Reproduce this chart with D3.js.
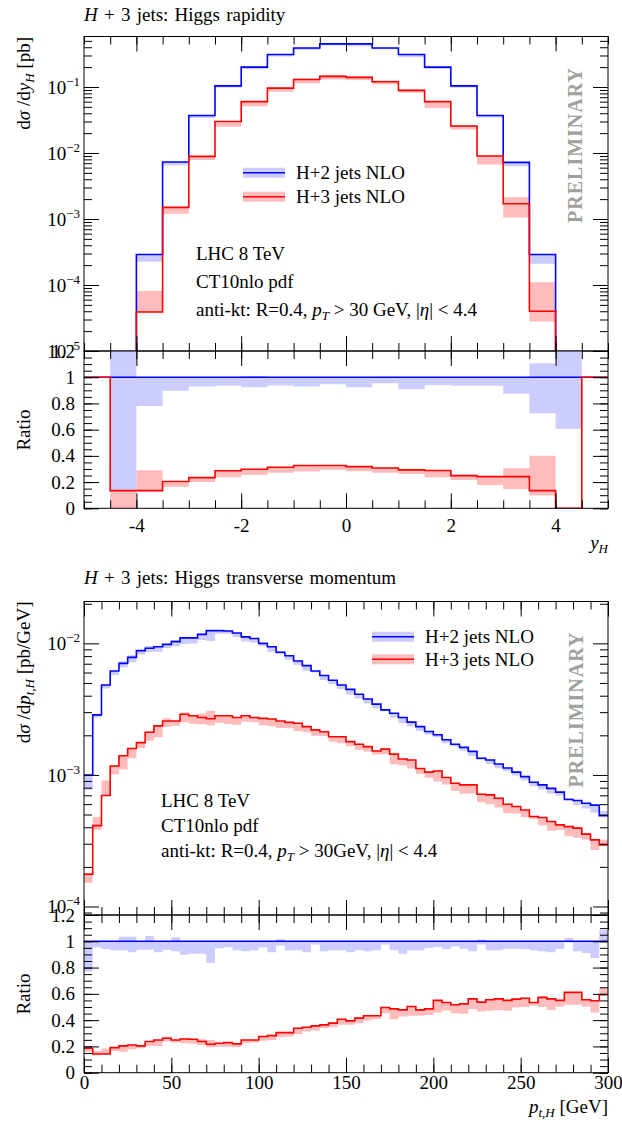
<!DOCTYPE html>
<html>
<head>
<meta charset="utf-8">
<script src="https://cdn.jsdelivr.net/npm/d3@7"></script>
<style>
body { margin: 0; background: #fff; }
svg text { font-family: "Liberation Serif", "DejaVu Serif", "Times New Roman", serif; font-size: 19px; fill: #000; }
</style>
</head>
<body>
<svg id="chart" width="622" height="1122"></svg>
<script>
// ---------- Higgs rapidity (bins of 0.5 from -5 to 5) ----------
var rapEdges = [-5, -4.5, -4, -3.5, -3, -2.5, -2, -1.5, -1, -0.5, 0, 0.5, 1, 1.5, 2, 2.5, 3, 3.5, 4, 4.5, 5];
var rapH2   = [0, 4e-6, 2.9e-4, 7.3e-3, 0.037, 0.104, 0.200, 0.31, 0.39, 0.45, 0.45, 0.39, 0.31, 0.200, 0.104, 0.037, 7.2e-3, 2.9e-4, 3e-6, 0];
var rapH2Lo = [0, 5e-7, 2.25e-4, 6.5e-3, 0.034, 0.097, 0.185, 0.29, 0.362, 0.426, 0.416, 0.372, 0.283, 0.188, 0.097, 0.0345, 6.3e-3, 2.1e-4, 1.8e-6, 0];
var rapH2Hi = [0, 6e-6, 2.9e-4, 7.3e-3, 0.037, 0.104, 0.202, 0.31, 0.39, 0.45, 0.45, 0.39, 0.31, 0.200, 0.104, 0.037, 7.2e-3, 2.9e-4, 4e-6, 0];
var rapH3   = [0, 5e-7, 3.9e-5, 1.5e-3, 8.9e-3, 0.030, 0.060, 0.096, 0.130, 0.145, 0.140, 0.120, 0.089, 0.060, 0.0257, 9.0e-3, 1.7e-3, 4.0e-5, 0, 0];
var rapH3Lo = [0, 0, 3.9e-5, 1.2e-3, 7.8e-3, 0.025, 0.051, 0.085, 0.114, 0.130, 0.128, 0.110, 0.082, 0.048, 0.0226, 6.7e-3, 1.05e-3, 2.8e-5, 0, 0];
var rapH3Hi = [0, 1e-6, 8.1e-5, 1.5e-3, 8.9e-3, 0.030, 0.060, 0.098, 0.135, 0.150, 0.145, 0.125, 0.092, 0.060, 0.0257, 9.0e-3, 2.15e-3, 1.1e-4, 0, 0];
// ratio to H+2 jets
var rapRatioH3   = [1, 0.135, 0.135, 0.204, 0.234, 0.287, 0.298, 0.313, 0.326, 0.326, 0.318, 0.308, 0.293, 0.288, 0.249, 0.242, 0.242, 0.135, 0, 1];
var rapRatioH3Lo = [1, 0, 0.135, 0.165, 0.200, 0.237, 0.254, 0.272, 0.280, 0.293, 0.282, 0.272, 0.262, 0.237, 0.216, 0.178, 0.148, 0.097, 0, 1];
var rapRatioH3Hi = [1, 0.135, 0.290, 0.204, 0.234, 0.287, 0.298, 0.313, 0.326, 0.326, 0.318, 0.308, 0.293, 0.288, 0.249, 0.242, 0.305, 0.400, 0, 1];
var rapRatioH2Lo = [1, 0.13, 0.78, 0.896, 0.929, 0.934, 0.924, 0.936, 0.929, 0.947, 0.924, 0.954, 0.911, 0.941, 0.934, 0.934, 0.873, 0.725, 0.606, 1];
var rapRatioH2Hi = [1, 1.5, 1, 1, 1, 1, 1.01, 1, 1, 1, 1, 1, 1, 1, 1, 1, 1, 1.107, 1.5, 1];

// ---------- Higgs transverse momentum (bins of 5 GeV) ----------
var ptEdges = [0, 5, 10, 15, 20, 25, 30, 35, 40, 45, 50, 55, 60, 65, 70, 75, 80, 85, 90, 95,
  100, 105, 110, 115, 120, 125, 130, 135, 140, 145, 150, 155, 160, 165, 170, 175, 180, 185, 190, 195,
  200, 205, 210, 215, 220, 225, 230, 235, 240, 245, 250, 255, 260, 265, 270, 275, 280, 285, 290, 295, 300];
var ptH2 = [1.0e-3, 2.86e-3, 4.83e-3, 6.17e-3, 7.05e-3, 7.83e-3, 8.8e-3, 9.17e-3, 9.43e-3, 9.83e-3,
  1.03e-2, 1.10e-2, 1.10e-2, 1.17e-2, 1.25e-2, 1.25e-2, 1.24e-2, 1.20e-2, 1.12e-2, 1.09e-2,
  1.0e-2, 9.43e-3, 8.55e-3, 8.06e-3, 7.34e-3, 6.77e-3, 6.17e-3, 5.69e-3, 5.24e-3, 4.83e-3,
  4.47e-3, 4.10e-3, 3.78e-3, 3.45e-3, 3.12e-3, 2.94e-3, 2.73e-3, 2.52e-3, 2.33e-3, 2.14e-3,
  2.02e-3, 1.85e-3, 1.71e-3, 1.62e-3, 1.51e-3, 1.34e-3, 1.30e-3, 1.21e-3, 1.13e-3, 1.05e-3,
  9.7e-4, 8.8e-4, 8.4e-4, 7.9e-4, 7.4e-4, 6.5e-4, 6.4e-4, 6.1e-4, 5.9e-4, 4.9e-4];
var ptH3 = [1.76e-4, 4.12e-4, 6.97e-4, 1.17e-3, 1.40e-3, 1.59e-3, 1.76e-3, 2.11e-3, 2.36e-3, 2.57e-3,
  2.57e-3, 2.89e-3, 2.82e-3, 2.73e-3, 2.67e-3, 2.82e-3, 2.82e-3, 2.73e-3, 2.82e-3, 2.73e-3,
  2.69e-3, 2.66e-3, 2.57e-3, 2.51e-3, 2.47e-3, 2.33e-3, 2.20e-3, 2.13e-3, 1.95e-3, 1.95e-3,
  1.79e-3, 1.71e-3, 1.64e-3, 1.52e-3, 1.57e-3, 1.44e-3, 1.32e-3, 1.30e-3, 1.12e-3, 1.05e-3,
  1.07e-3, 9.55e-4, 8.65e-4, 8.4e-4, 8.4e-4, 7.13e-4, 7.05e-4, 6.65e-4, 5.99e-4, 5.75e-4,
  5.42e-4, 4.83e-4, 4.75e-4, 4.43e-4, 4.17e-4, 4.05e-4, 3.94e-4, 3.55e-4, 3.21e-4, 2.94e-4];
// ratio panel: H+3 / H+2 and the relative bands
var ptRatioH3 = [0.186, 0.142, 0.142, 0.191, 0.204, 0.211, 0.204, 0.237, 0.249, 0.262,
  0.249, 0.257, 0.255, 0.237, 0.216, 0.224, 0.229, 0.219, 0.249, 0.249,
  0.275, 0.282, 0.305, 0.305, 0.338, 0.346, 0.356, 0.364, 0.377, 0.407,
  0.394, 0.415, 0.433, 0.433, 0.496, 0.486, 0.478, 0.504, 0.478, 0.486,
  0.550, 0.534, 0.517, 0.524, 0.562, 0.537, 0.555, 0.562, 0.550, 0.560,
  0.567, 0.534, 0.573, 0.562, 0.550, 0.611, 0.611, 0.555, 0.547, 0.593];
var ptRatioH3Lo = [0.160, 0.132, 0.142, 0.165, 0.160, 0.178, 0.186, 0.204, 0.204, 0.237,
  0.229, 0.224, 0.221, 0.211, 0.193, 0.198, 0.198, 0.193, 0.224, 0.229,
  0.244, 0.249, 0.270, 0.275, 0.295, 0.313, 0.321, 0.338, 0.346, 0.364,
  0.364, 0.377, 0.397, 0.407, 0.453, 0.407, 0.427, 0.433, 0.433, 0.440,
  0.458, 0.473, 0.453, 0.448, 0.483, 0.466, 0.471, 0.478, 0.471, 0.496,
  0.499, 0.511, 0.499, 0.478, 0.504, 0.517, 0.517, 0.504, 0.458, 0.593];
var ptRatioH3Hi = [0.190, 0.165, 0.185, 0.191, 0.204, 0.211, 0.204, 0.237, 0.249, 0.275,
  0.249, 0.265, 0.255, 0.254, 0.249, 0.224, 0.229, 0.219, 0.249, 0.249,
  0.275, 0.282, 0.305, 0.305, 0.338, 0.346, 0.356, 0.364, 0.377, 0.407,
  0.394, 0.415, 0.433, 0.433, 0.496, 0.486, 0.478, 0.504, 0.478, 0.486,
  0.550, 0.534, 0.517, 0.524, 0.562, 0.537, 0.555, 0.562, 0.550, 0.560,
  0.567, 0.534, 0.573, 0.562, 0.550, 0.611, 0.611, 0.555, 0.547, 0.649];
var ptRatioH2Lo = [0.771, 0.954, 0.941, 0.931, 0.931, 0.916, 0.936, 0.936, 0.916, 0.936,
  0.924, 0.898, 0.906, 0.906, 0.835, 0.947, 0.954, 0.931, 0.924, 0.931,
  0.954, 0.916, 0.967, 0.931, 0.931, 0.916, 0.975, 0.924, 0.931, 0.931,
  0.916, 0.931, 0.924, 0.931, 0.975, 0.931, 0.906, 0.931, 0.931, 0.949,
  0.957, 0.941, 0.962, 0.944, 0.924, 0.975, 0.931, 0.931, 0.944, 0.944,
  0.941, 0.931, 0.924, 0.916, 0.941, 0.990, 0.924, 0.911, 0.873, 1.0];
var ptRatioH2Hi = [1, 1, 1, 1, 1.035, 1.035, 1, 1.04, 1, 1,
  1.03, 1, 1, 1, 1, 1, 1, 1, 1, 1,
  1, 1, 1.018, 1, 1, 1, 1, 1, 1, 1,
  1, 1, 1, 1, 1, 1, 1, 1, 1, 1,
  1, 1, 1, 1, 1, 1.013, 1, 1, 1, 1,
  1, 1, 1, 1, 1, 1.025, 1, 1, 1, 1.084];

var legendLabels = ["H+2 jets NLO", "H+3 jets NLO"];
var rapXTicks = [-4, -2, 0, 2, 4];
var ptXTicks = [0, 50, 100, 150, 200, 250, 300];
var ratioTicks = [0, 0.2, 0.4, 0.6, 0.8, 1, 1.2];

var BLUE = "#0000ff", BLUEBAND = "#ccccff", RED = "#ff0000", REDBAND = "#ffbcbc";

var svg = d3.select("#chart");
var defs = svg.append("defs");
var clipCount = 0;
var L = 84, R = 608;

function panel(x, y) {
    var id = "clip" + (clipCount++);
    defs.append("clipPath").attr("id", id).append("rect")
        .attr("x", x.range()[0]).attr("y", y.range()[1])
        .attr("width", x.range()[1] - x.range()[0])
        .attr("height", y.range()[0] - y.range()[1]);
    var g = svg.append("g");
    return { g: g, plot: g.append("g").attr("clip-path", "url(#" + id + ")") };
}

function floorOf(y) { return y.domain()[0] > 0 && y.base ? y.domain()[0] / 1000 : -1; }

function stepLine(x, y, edges, vals) {
    var f = floorOf(y);
    var pts = vals.map(function(v, i) { return [edges[i], Math.max(v, f)]; });
    pts.push([edges[edges.length - 1], pts[pts.length - 1][1]]);
    return d3.line().x(function(d) { return x(d[0]); }).y(function(d) { return y(d[1]); })
        .curve(d3.curveStepAfter)(pts);
}

function stepBand(x, y, edges, lo, hi) {
    var f = floorOf(y);
    var pts = lo.map(function(v, i) { return [edges[i], Math.max(v, f), Math.max(hi[i], f)]; });
    pts.push([edges[edges.length - 1], pts[pts.length - 1][1], pts[pts.length - 1][2]]);
    return d3.area().x(function(d) { return x(d[0]); })
        .y0(function(d) { return y(d[1]); }).y1(function(d) { return y(d[2]); })
        .curve(d3.curveStepAfter)(pts);
}

function drawHist(p, x, y, edges, bands, lines) {
    bands.forEach(function(b) {
        p.plot.append("path").attr("d", stepBand(x, y, edges, b[0], b[1])).attr("fill", b[2]);
    });
    lines.forEach(function(l) {
        p.plot.append("path").attr("d", stepLine(x, y, edges, l[0])).attr("fill", "none")
            .attr("stroke", l[1]).attr("stroke-width", 1.6);
    });
}

function tickSet(g, axisFn, scale, pos, vals, len, vertical) {
    var t = g.append("g")
        .attr("transform", vertical ? "translate(" + pos + ",0)" : "translate(0," + pos + ")")
        .call(axisFn(scale).tickValues(vals).tickSize(-len).tickSizeOuter(0).tickFormat(""));
    t.select(".domain").remove();
    t.selectAll("line").attr("stroke", "#000");
    return t;
}

function logMinors(y) {
    var d = y.domain(), out = [];
    for (var e = Math.floor(Math.log10(d[0])); e <= Math.ceil(Math.log10(d[1])); e++) {
        for (var k = 2; k <= 9; k++) {
            var v = k * Math.pow(10, e);
            if (v >= d[0] && v <= d[1]) out.push(v);
        }
    }
    return out;
}

function frame(p, x, y, o) {
    var g = p.g, x0 = x.range()[0], x1 = x.range()[1], yT = y.range()[1], yB = y.range()[0];
    g.append("rect").attr("x", x0).attr("y", yT).attr("width", x1 - x0).attr("height", yB - yT)
        .attr("fill", "none").attr("stroke", "#000").attr("stroke-width", 1);
    [[d3.axisBottom, yB], [d3.axisTop, yT]].forEach(function(a) {
        tickSet(g, a[0], x, a[1], o.xMinor, 8, false);
        tickSet(g, a[0], x, a[1], o.xMajor, 15, false);
    });
    [[d3.axisLeft, x0], [d3.axisRight, x1]].forEach(function(a) {
        tickSet(g, a[0], y, a[1], o.yMinor, 8, true);
        tickSet(g, a[0], y, a[1], o.yMajor, 15, true);
    });
    // y labels
    var yl = g.append("g").attr("transform", "translate(" + x0 + ",0)")
        .call(d3.axisLeft(y).tickValues(o.yMajor).tickSize(0).tickPadding(o.yPad)
            .tickFormat(o.log ? function() { return ""; } : function(d) { return String(+d.toFixed(1)); }));
    yl.select(".domain").remove();
    yl.attr("font-size", null).attr("font-family", null);
    if (o.log) {
        yl.selectAll("text").each(function(d) {
            var t = d3.select(this);
            t.append("tspan").text("10");
            t.append("tspan").attr("dy", -8).attr("font-size", 13)
                .text("\u2212" + Math.round(-Math.log10(d)));
        });
    }
    if (o.xLabels) {
        var xl = g.append("g").attr("transform", "translate(0," + yB + ")")
            .call(d3.axisBottom(x).tickValues(o.xMajor).tickSize(0).tickPadding(o.xPad)
                .tickFormat(function(d) { return String(d); }));
        xl.select(".domain").remove();
        xl.attr("font-size", null).attr("font-family", null);
    }
}

function rich(text, parts) {
    parts.forEach(function(q) {
        var ts = text.append("tspan").text(q.t);
        if (q.i) ts.attr("font-style", "italic");
        if (q.size) ts.attr("font-size", q.size);
        if (q.dy) ts.attr("dy", q.dy);
    });
    return text;
}

function label(x, y, parts, anchor, rotate) {
    var t = svg.append("text").attr("text-anchor", anchor || "start");
    if (rotate) t.attr("transform", "translate(" + x + "," + y + ") rotate(-90)");
    else t.attr("x", x).attr("y", y);
    return rich(t, parts);
}

function legend(x0, y0, dy) {
    var cols = [[BLUE, BLUEBAND], [RED, REDBAND]];
    legendLabels.forEach(function(s, i) {
        var yy = y0 + i * dy;
        svg.append("rect").attr("x", x0).attr("y", yy - 5).attr("width", 42).attr("height", 10)
            .attr("fill", cols[i][1]);
        svg.append("line").attr("x1", x0).attr("x2", x0 + 42).attr("y1", yy).attr("y2", yy)
            .attr("stroke", cols[i][0]).attr("stroke-width", 1.6);
        svg.append("text").attr("x", x0 + 53).attr("y", yy + 6.5).text(s);
    });
}

function prelim(x, y) {
    svg.append("text").attr("transform", "translate(" + x + "," + y + ") rotate(-90)")
        .attr("text-anchor", "middle").attr("textLength", 155).attr("lengthAdjust", "spacing")
        .style("fill", "#a0a0a0").style("font-size", "20px").style("font-weight", "bold")
        .text("PRELIMINARY");
}

function mult(a, b) { return a.map(function(v, i) { return v * b[i]; }); }
function rel(a, b, c) { return a.map(function(v, i) { return b[i] > 0 ? v * c[i] / b[i] : 0; }); }

// ================= chart 1: rapidity =================
var x1 = d3.scaleLinear().domain([-5, 5]).range([L, R]);
var y1 = d3.scaleLog().domain([1e-5, 0.582]).range([351, 36.5]);
var r1 = d3.scaleLinear().domain([0, 1.2]).range([508.3, 351]);
var rapMinor = d3.range(-5, 5.01, 0.5);

var p1 = panel(x1, y1);
drawHist(p1, x1, y1, rapEdges,
    [[rapH2Lo, rapH2Hi, BLUEBAND], [rapH3Lo, rapH3Hi, REDBAND]],
    [[rapH2, BLUE], [rapH3, RED]]);
frame(p1, x1, y1, { xMajor: rapXTicks, xMinor: rapMinor, yMajor: [1e-5, 1e-4, 1e-3, 1e-2, 1e-1],
    yMinor: logMinors(y1), log: true, yPad: 4 });

var q1 = panel(x1, r1);
drawHist(q1, x1, r1, rapEdges,
    [[rapRatioH2Lo, rapRatioH2Hi, BLUEBAND], [rapRatioH3Lo, rapRatioH3Hi, REDBAND]],
    [[rapEdges.slice(1).map(function() { return 1; }), BLUE], [rapRatioH3, RED]]);
frame(q1, x1, r1, { xMajor: rapXTicks, xMinor: rapMinor, yMajor: ratioTicks,
    yMinor: d3.range(0, 1.201, 0.05), yPad: 9, xLabels: true, xPad: 10 });

label(84, 21, [{ t: "H", i: 1 }, { t: " + 3 jets: Higgs rapidity" }]).attr("word-spacing", 1.5);
label(30, 37, [{ t: "d" }, { t: "\u03c3", i: 1 }, { t: " /d" }, { t: "y", i: 1 },
    { t: "H", i: 1, size: 13, dy: 4 }, { t: " [pb]", dy: -4 }], "end", true);
label(30, 430, [{ t: "Ratio" }], "middle", true);
label(608, 549, [{ t: "y", i: 1 }, { t: "H", i: 1, size: 13, dy: 4 }], "end");
legend(243, 172.7, 24);
label(196, 260, [{ t: "LHC 8 TeV" }]);
label(196, 288, [{ t: "CT10nlo pdf" }]);
label(196, 316, [{ t: "anti-kt: R=0.4, " }, { t: "p", i: 1 }, { t: "T", i: 1, size: 13, dy: 4 },
    { t: " > 30 GeV, |", dy: -4 }, { t: "\u03b7", i: 1 }, { t: "| < 4.4" }]);
prelim(582, 145.5);

// ================= chart 2: transverse momentum =================
var x2 = d3.scaleLinear().domain([0, 300]).range([L, R]);
var y2 = d3.scaleLog().domain([8.62e-5, 0.0208]).range([915, 601.5]);
var r2 = d3.scaleLinear().domain([0, 1.2]).range([1072.7, 915]);
var ptMinor = d3.range(0, 301, 10);

var p2 = panel(x2, y2);
drawHist(p2, x2, y2, ptEdges,
    [[mult(ptH2, ptRatioH2Lo), mult(ptH2, ptRatioH2Hi), BLUEBAND],
     [rel(ptH3, ptRatioH3, ptRatioH3Lo), rel(ptH3, ptRatioH3, ptRatioH3Hi), REDBAND]],
    [[ptH2, BLUE], [ptH3, RED]]);
frame(p2, x2, y2, { xMajor: ptXTicks, xMinor: ptMinor, yMajor: [1e-4, 1e-3, 1e-2],
    yMinor: logMinors(y2), log: true, yPad: 4 });

var q2 = panel(x2, r2);
drawHist(q2, x2, r2, ptEdges,
    [[ptRatioH2Lo, ptRatioH2Hi, BLUEBAND], [ptRatioH3Lo, ptRatioH3Hi, REDBAND]],
    [[ptEdges.slice(1).map(function() { return 1; }), BLUE], [ptRatioH3, RED]]);
frame(q2, x2, r2, { xMajor: ptXTicks, xMinor: ptMinor, yMajor: ratioTicks,
    yMinor: d3.range(0, 1.201, 0.05), yPad: 9, xLabels: true, xPad: 3 });

label(84, 584, [{ t: "H", i: 1 }, { t: " + 3 jets: Higgs transverse momentum" }]).attr("word-spacing", 1.5);
label(30, 601.5, [{ t: "d" }, { t: "\u03c3", i: 1 }, { t: " /d" }, { t: "p", i: 1 },
    { t: "t,H", i: 1, size: 13, dy: 4 }, { t: " [pb/GeV]", dy: -4 }], "end", true);
label(30, 994, [{ t: "Ratio" }], "middle", true);
label(608, 1113, [{ t: "p", i: 1 }, { t: "t,H", i: 1, size: 13, dy: 4 }, { t: " [GeV]", dy: -4 }], "end");
legend(372, 636.7, 22.6);
label(161, 806.5, [{ t: "LHC 8 TeV" }]);
label(161, 831.5, [{ t: "CT10nlo pdf" }]);
label(161, 856.5, [{ t: "anti-kt: R=0.4, " }, { t: "p", i: 1 }, { t: "T", i: 1, size: 13, dy: 4 },
    { t: " > 30GeV, |", dy: -4 }, { t: "\u03b7", i: 1 }, { t: "| < 4.4" }]);
prelim(583, 710);
</script>
</body>
</html>
